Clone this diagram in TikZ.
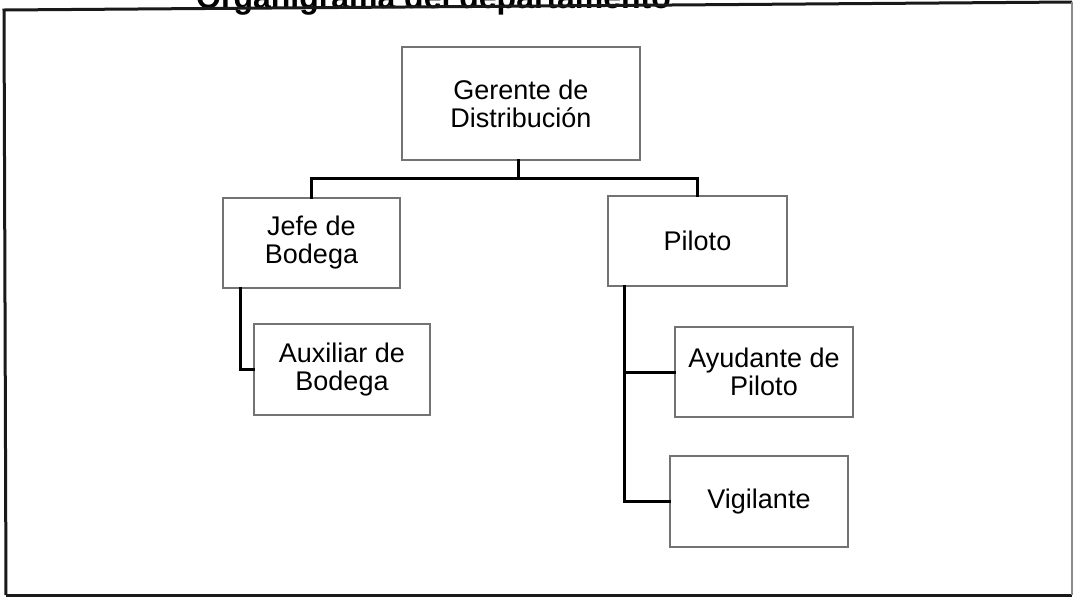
\documentclass[tikz,border=0pt]{standalone}
\usepackage{fontspec}
\setmainfont{Liberation Sans}
\begin{document}
\begin{tikzpicture}[x=1pt,y=-1pt,
  box/.style={draw=black!55, line width=1.2pt, fill=white, inner sep=0pt, align=center,
    font=\fontsize{27}{28}\selectfont},
  conn/.style={draw=black, line width=3pt, line cap=rect},
  frame/.style={draw=black!90, line width=3pt}]
\useasboundingbox (0,0) rectangle (1074,598);
\fill[white] (0,0) rectangle (1074,598);
% title, cut off by the top edge
\begin{scope}
\clip (0,0) rectangle (1074,598);
\node[anchor=base west, inner sep=0pt, font=\fontsize{32}{34}\selectfont\bfseries] (title) at (196,8) {Organigrama del departamento};
\end{scope}
% frame
\coordinate (ftl) at (4,10);
\coordinate (ftr) at (1072,2);
\coordinate (fbr) at (1072,595);
\coordinate (fbl) at (6,595);
\draw[frame] (fbl) -- (ftl) -- (ftr);
\draw[frame] (fbl) -- (fbr);
\draw[draw=black!45, line width=1.2pt] (ftr) -- (fbr);
% connectors first
\coordinate (bus) at (311.5,178);
% boxes
\node[box, minimum width=238pt, minimum height=113pt] (ger) at (521,103.5) {Gerente de\\Distribución};
\node[box, minimum width=177pt, minimum height=90pt] (jefe) at (311.5,243) {Jefe de\\Bodega};
\node[box, minimum width=179pt, minimum height=90pt] (pil) at (697.5,241) {Piloto};
\node[box, minimum width=176pt, minimum height=91pt] (aux) at (342,369.5) {Auxiliar de\\Bodega};
\node[box, minimum width=178pt, minimum height=90pt] (aya) at (764,372) {Ayudante de\\Piloto};
\node[box, minimum width=178pt, minimum height=91pt] (vig) at (759,501.5) {Vigilante};
% connectors
\draw[conn] ([xshift=-3pt]ger.south) -- ([xshift=-3pt]ger.south |- bus);
\draw[conn] (jefe.north) -- (jefe.north |- bus) -- (pil.north |- bus) -- (pil.north);
\coordinate (jstem) at ([xshift=18pt]jefe.south west);
\draw[conn] (jstem) |- (aux.west);
\coordinate (pstem) at ([xshift=17pt]pil.south west);
\draw[conn] (pstem) |- (vig.west);
\draw[conn] (aya.west) -- (aya.west -| pstem);
\end{tikzpicture}
\end{document}
